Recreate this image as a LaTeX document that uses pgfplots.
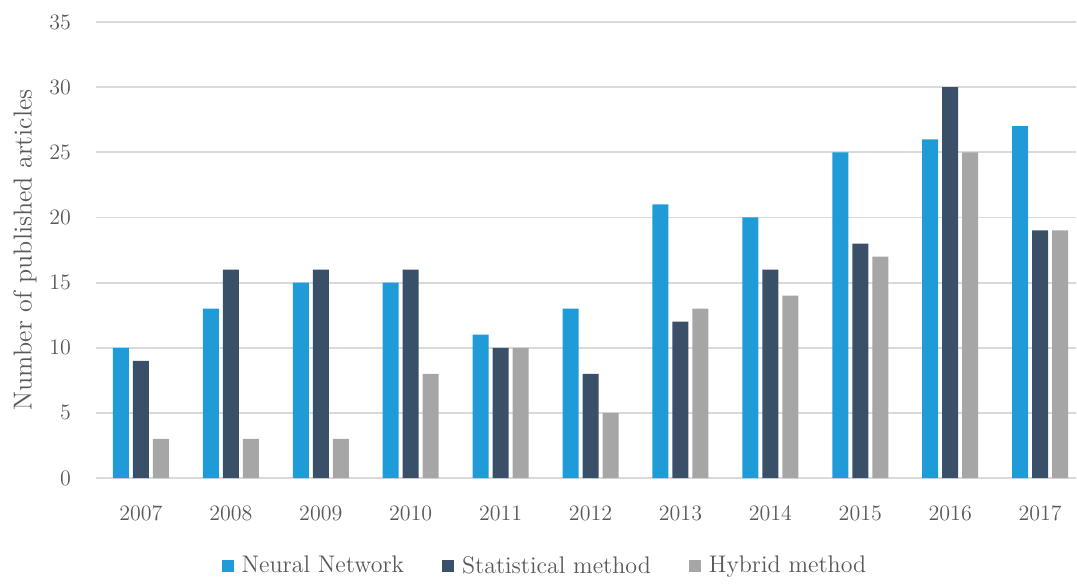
\documentclass[border=0pt]{standalone}
\usepackage{pgfplots}
\pgfplotsset{compat=1.18}
\usepackage{pgfplotstable}

\definecolor{nnblue}{HTML}{1F9BD8}
\definecolor{statdark}{HTML}{3A5068}
\definecolor{hybgray}{HTML}{A6A6A6}
\definecolor{gridgray}{HTML}{D9D9D9}
\definecolor{txtgray}{HTML}{595959}

\pgfplotstableread{
x year nn stat hyb
0 2007 10 9 3
1 2008 13 16 3
2 2009 15 16 3
3 2010 15 16 8
4 2011 11 10 10
5 2012 13 8 5
6 2013 21 12 13
7 2014 20 16 14
8 2015 25 18 17
9 2016 26 30 25
10 2017 27 19 19
}\articles

\begin{document}
\begin{tikzpicture}
\begin{axis}[
    scale only axis,
    width=490pt, height=228pt,
    ybar=2pt, bar width=8pt,
    xmin=-0.5, xmax=10.4,
    ymin=0, ymax=35,
    ytick={0,5,...,35},
    xtick=data,
    xticklabels={2007,2008,2009,2010,2011,2012,2013,2014,2015,2016,2017},
    axis line style={draw=none},
    tick style={draw=none},
    ymajorgrids,
    grid style={gridgray, line width=0.9pt},
    ticklabel style={font=\fontsize{11}{13}\selectfont, text=txtgray},
    /pgf/number format/assume math mode=true,
    yticklabel style={xshift=-9pt},
    xticklabel style={yshift=-6pt},
    ylabel={Number of published articles},
    ylabel style={font=\fontsize{13}{15}\selectfont, text=txtgray,
        at={(axis description cs:-0.0724,0.5)}, anchor=center},
    legend columns=3,
    legend style={draw=none, at={(axis description cs:0.459,-0.193)}, anchor=center,
        font=\fontsize{12}{14}\selectfont, text=txtgray,
        /tikz/every even column/.append style={column sep=17pt}},
    legend image code/.code={\fill[#1] (0pt,-3pt) rectangle (6pt,3pt);},
    legend style={/tikz/every odd column/.append style={column sep=2pt}},
]
\addplot[fill=nnblue, draw=none] table[x=x, y=nn] {\articles};
\addplot[fill=statdark, draw=none] table[x=x, y=stat] {\articles};
\addplot[fill=hybgray, draw=none] table[x=x, y=hyb] {\articles};
\legend{Neural Network, Statistical method, Hybrid method}
\end{axis}
\path ([yshift=11pt]current axis.north west);
\path ([xshift=-48pt]current axis.west);
\end{tikzpicture}
\end{document}
